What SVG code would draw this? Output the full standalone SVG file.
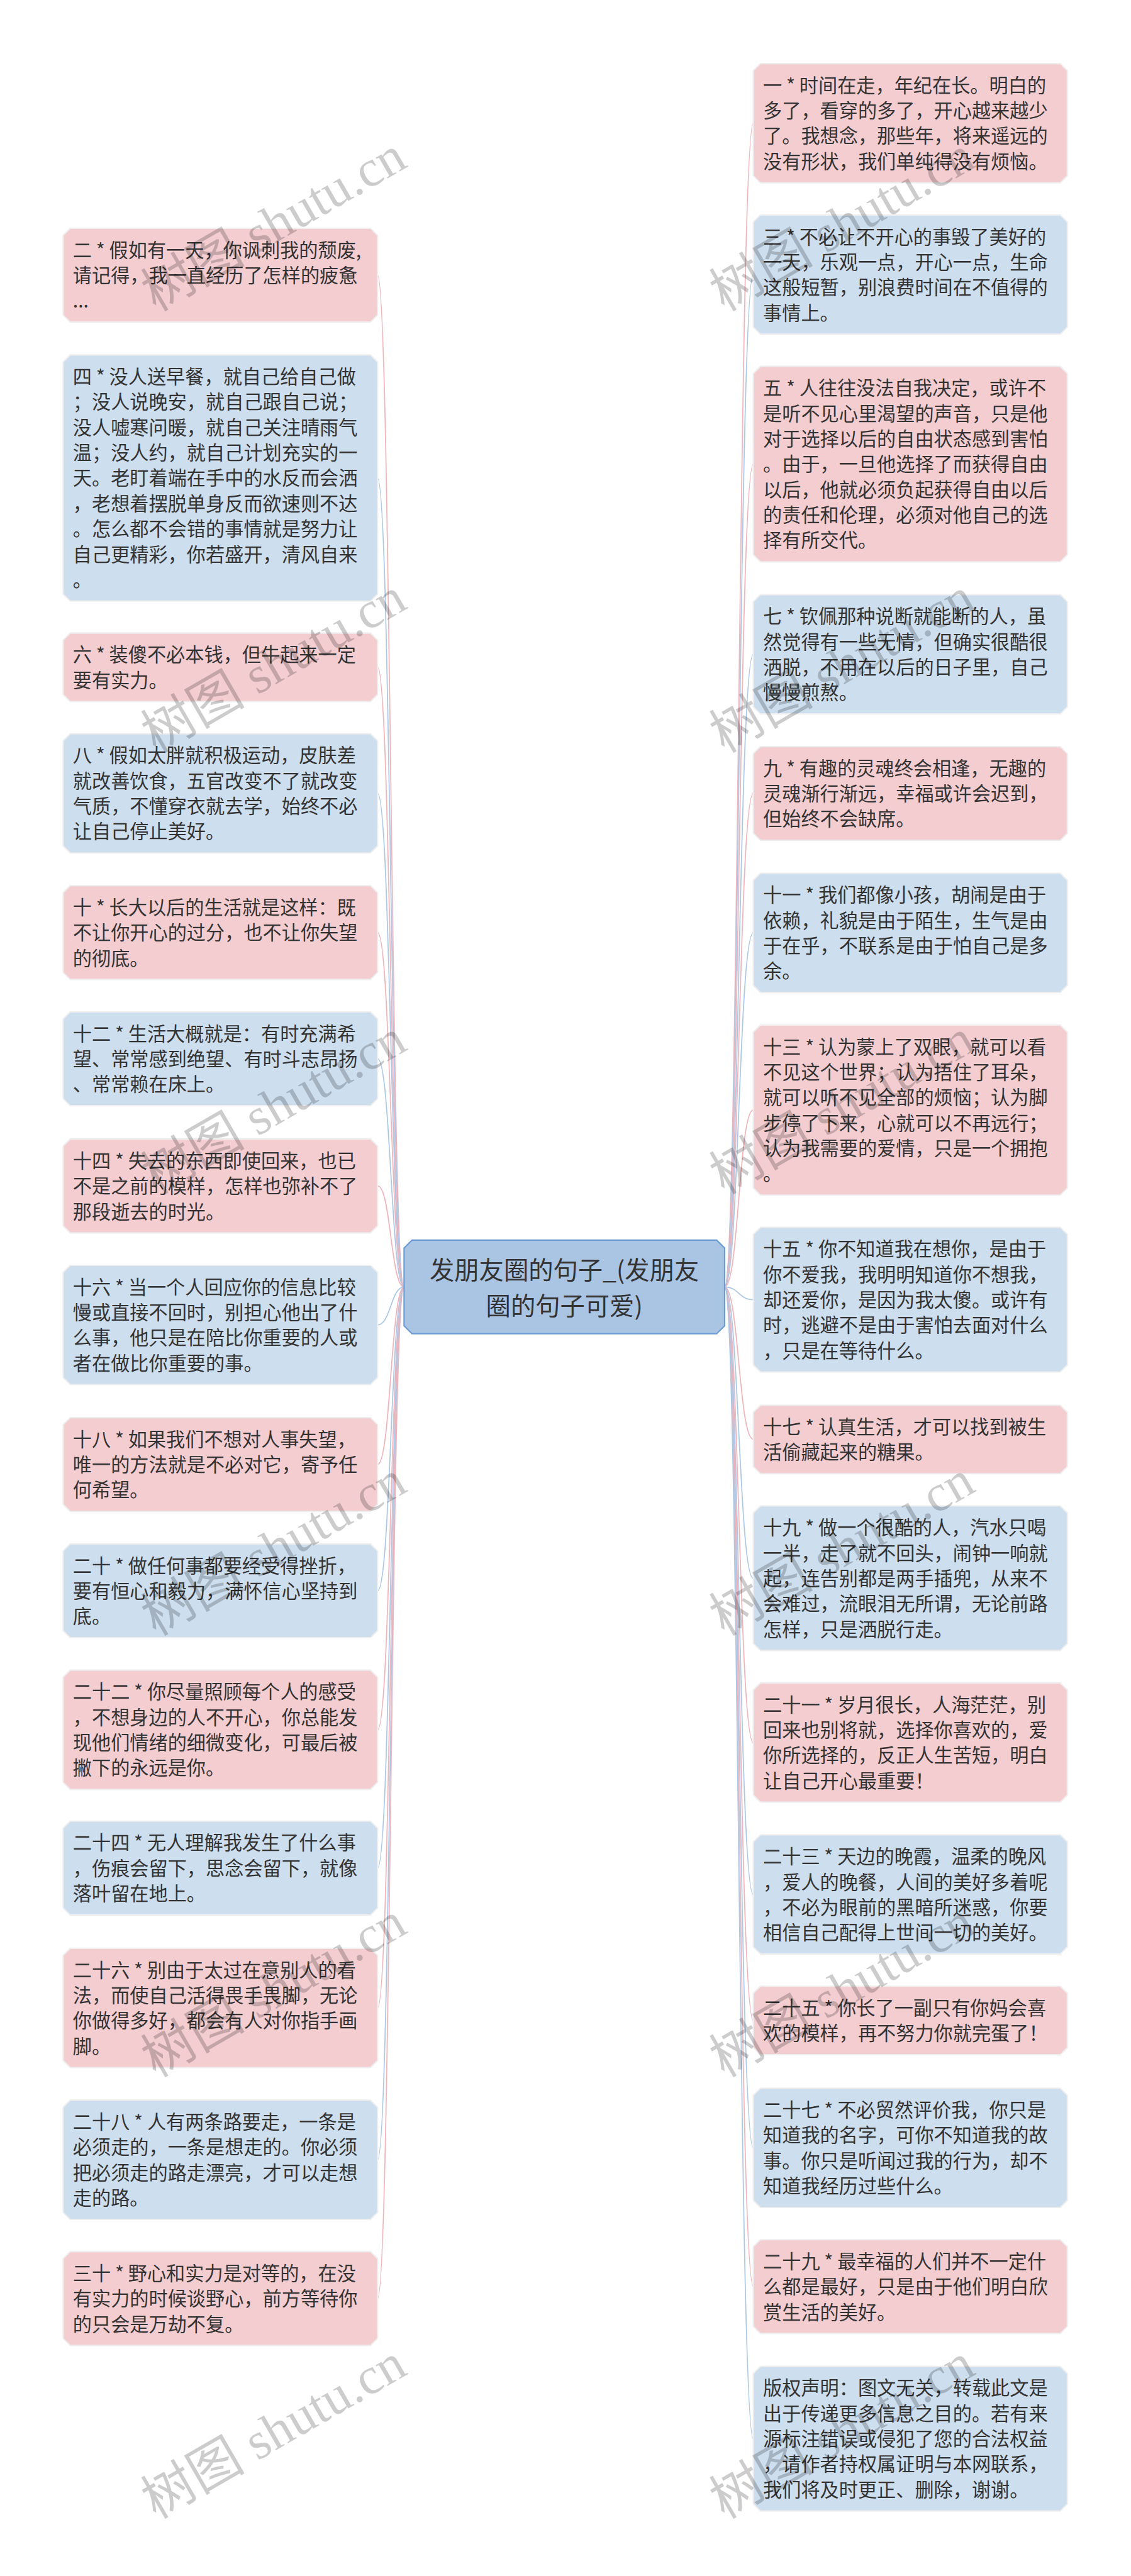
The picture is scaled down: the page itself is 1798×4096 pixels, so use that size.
<svg xmlns="http://www.w3.org/2000/svg" width="1798" height="4096" viewBox="0 0 1798 4096">
<style>
.pk path{fill:#f4cdd1;stroke:#eeeeee;stroke-width:3}
.bl path{fill:#cddeee;stroke:#eeeeee;stroke-width:3}
.t{font-family:"Noto Sans CJK SC","Noto Sans",sans-serif;font-size:43px;fill:#333333}
.c{font-family:"Noto Sans CJK SC","Noto Sans",sans-serif;font-size:56px;fill:#333333}
.lp{fill:none;stroke:#f0b4bb;stroke-width:2.5}
.lb{fill:none;stroke:#abc8e6;stroke-width:2.5}
.wm{font-family:"Liberation Serif","Noto Sans CJK SC",serif;font-size:118px;fill:#000000;fill-opacity:0.2}
</style>
<rect width="1798" height="4096" fill="#ffffff"/>
<g transform="scale(0.702)">
<g id="connectors">
<path class="lp" d="M915 2915 C885 2915 885 623 855 623"/>
<path class="lb" d="M915 2915 C885 2915 885 1083 855 1083"/>
<path class="lp" d="M915 2915 C885 2915 885 1511 855 1511"/>
<path class="lb" d="M915 2915 C885 2915 885 1797 855 1797"/>
<path class="lp" d="M915 2915 C885 2915 885 2112 855 2112"/>
<path class="lb" d="M915 2915 C885 2915 885 2398 855 2398"/>
<path class="lp" d="M915 2915 C885 2915 885 2686 855 2686"/>
<path class="lb" d="M915 2915 C885 2915 885 3001 855 3001"/>
<path class="lp" d="M915 2915 C885 2915 885 3317 855 3317"/>
<path class="lb" d="M915 2915 C885 2915 885 3603 855 3603"/>
<path class="lp" d="M915 2915 C885 2915 885 3918 855 3918"/>
<path class="lb" d="M915 2915 C885 2915 885 4231 855 4231"/>
<path class="lp" d="M915 2915 C885 2915 885 4548 855 4548"/>
<path class="lb" d="M915 2915 C885 2915 885 4892 855 4892"/>
<path class="lp" d="M915 2915 C885 2915 885 5206 855 5206"/>
<path class="lp" d="M1641 2915 C1673 2915 1673 279 1706 279"/>
<path class="lb" d="M1641 2915 C1673 2915 1673 622 1706 622"/>
<path class="lp" d="M1641 2915 C1673 2915 1673 1051 1706 1051"/>
<path class="lb" d="M1641 2915 C1673 2915 1673 1482 1706 1482"/>
<path class="lp" d="M1641 2915 C1673 2915 1673 1797 1706 1797"/>
<path class="lb" d="M1641 2915 C1673 2915 1673 2113 1706 2113"/>
<path class="lp" d="M1641 2915 C1673 2915 1673 2514 1706 2514"/>
<path class="lb" d="M1641 2915 C1673 2915 1673 2944 1706 2944"/>
<path class="lp" d="M1641 2915 C1673 2915 1673 3260 1706 3260"/>
<path class="lb" d="M1641 2915 C1673 2915 1673 3575 1706 3575"/>
<path class="lp" d="M1641 2915 C1673 2915 1673 3947 1706 3947"/>
<path class="lb" d="M1641 2915 C1673 2915 1673 4291 1706 4291"/>
<path class="lp" d="M1641 2915 C1673 2915 1673 4576 1706 4576"/>
<path class="lb" d="M1641 2915 C1673 2915 1673 4865 1706 4865"/>
<path class="lp" d="M1641 2915 C1673 2915 1673 5179 1706 5179"/>
<path class="lb" d="M1641 2915 C1673 2915 1673 5524 1706 5524"/>
</g>
<g id="center">
<path d="M933 2809 H1623 L1641 2827 V3003 L1623 3021 H933 L915 3003 V2827 Z" fill="#a9c5e3" stroke="#6b9bd2" stroke-width="3"/>
<text class="c" text-anchor="middle"><tspan x="1278" y="2897">发朋友圈的句子_(发朋友</tspan><tspan x="1278" y="2979">圈的句子可爱)</tspan></text>
</g>
<g id="n2" class="pk"><path d="M159 517 H839 L855 533 V713.5 L839 729.5 H159 L143 713.5 V533 Z"/><text class="t"><tspan x="165" y="582">二 * 假如有一天，你讽刺我的颓废,</tspan><tspan x="165" dy="57.5">请记得，我一直经历了怎样的疲惫</tspan><tspan x="165" dy="57.5">...</tspan></text></g>
<g id="n4" class="bl"><path d="M159 804 H839 L855 820 V1345.5 L839 1361.5 H159 L143 1345.5 V820 Z"/><text class="t"><tspan x="165" y="869">四 * 没人送早餐，就自己给自己做</tspan><tspan x="165" dy="57.5">；没人说晚安，就自己跟自己说；</tspan><tspan x="165" dy="57.5">没人嘘寒问暖，就自己关注晴雨气</tspan><tspan x="165" dy="57.5">温；没人约，就自己计划充实的一</tspan><tspan x="165" dy="57.5">天。老盯着端在手中的水反而会洒</tspan><tspan x="165" dy="57.5">，老想着摆脱单身反而欲速则不达</tspan><tspan x="165" dy="57.5">。怎么都不会错的事情就是努力让</tspan><tspan x="165" dy="57.5">自己更精彩，你若盛开，清风自来</tspan><tspan x="165" dy="57.5">。</tspan></text></g>
<g id="n6" class="pk"><path d="M159 1434 H839 L855 1450 V1573 L839 1589 H159 L143 1573 V1450 Z"/><text class="t"><tspan x="165" y="1499">六 * 装傻不必本钱，但牛起来一定</tspan><tspan x="165" dy="57.5">要有实力。</tspan></text></g>
<g id="n8" class="bl"><path d="M159 1662 H839 L855 1678 V1916 L839 1932 H159 L143 1916 V1678 Z"/><text class="t"><tspan x="165" y="1727">八 * 假如太胖就积极运动，皮肤差</tspan><tspan x="165" dy="57.5">就改善饮食，五官改变不了就改变</tspan><tspan x="165" dy="57.5">气质，不懂穿衣就去学，始终不必</tspan><tspan x="165" dy="57.5">让自己停止美好。</tspan></text></g>
<g id="n10" class="pk"><path d="M159 2006 H839 L855 2022 V2202.5 L839 2218.5 H159 L143 2202.5 V2022 Z"/><text class="t"><tspan x="165" y="2071">十 * 长大以后的生活就是这样：既</tspan><tspan x="165" dy="57.5">不让你开心的过分，也不让你失望</tspan><tspan x="165" dy="57.5">的彻底。</tspan></text></g>
<g id="n12" class="bl"><path d="M159 2292 H839 L855 2308 V2488.5 L839 2504.5 H159 L143 2488.5 V2308 Z"/><text class="t"><tspan x="165" y="2357">十二 * 生活大概就是：有时充满希</tspan><tspan x="165" dy="57.5">望、常常感到绝望、有时斗志昂扬</tspan><tspan x="165" dy="57.5">、常常赖在床上。</tspan></text></g>
<g id="n14" class="pk"><path d="M159 2580 H839 L855 2596 V2776.5 L839 2792.5 H159 L143 2776.5 V2596 Z"/><text class="t"><tspan x="165" y="2645">十四 * 失去的东西即使回来，也已</tspan><tspan x="165" dy="57.5">不是之前的模样，怎样也弥补不了</tspan><tspan x="165" dy="57.5">那段逝去的时光。</tspan></text></g>
<g id="n16" class="bl"><path d="M159 2866 H839 L855 2882 V3120 L839 3136 H159 L143 3120 V2882 Z"/><text class="t"><tspan x="165" y="2931">十六 * 当一个人回应你的信息比较</tspan><tspan x="165" dy="57.5">慢或直接不回时，别担心他出了什</tspan><tspan x="165" dy="57.5">么事，他只是在陪比你重要的人或</tspan><tspan x="165" dy="57.5">者在做比你重要的事。</tspan></text></g>
<g id="n18" class="pk"><path d="M159 3211 H839 L855 3227 V3407.5 L839 3423.5 H159 L143 3407.5 V3227 Z"/><text class="t"><tspan x="165" y="3276">十八 * 如果我们不想对人事失望，</tspan><tspan x="165" dy="57.5">唯一的方法就是不必对它，寄予任</tspan><tspan x="165" dy="57.5">何希望。</tspan></text></g>
<g id="n20" class="bl"><path d="M159 3497 H839 L855 3513 V3693.5 L839 3709.5 H159 L143 3693.5 V3513 Z"/><text class="t"><tspan x="165" y="3562">二十 * 做任何事都要经受得挫折，</tspan><tspan x="165" dy="57.5">要有恒心和毅力，满怀信心坚持到</tspan><tspan x="165" dy="57.5">底。</tspan></text></g>
<g id="n22" class="pk"><path d="M159 3783 H839 L855 3799 V4037 L839 4053 H159 L143 4037 V3799 Z"/><text class="t"><tspan x="165" y="3848">二十二 * 你尽量照顾每个人的感受</tspan><tspan x="165" dy="57.5">，不想身边的人不开心，你总能发</tspan><tspan x="165" dy="57.5">现他们情绪的细微变化，可最后被</tspan><tspan x="165" dy="57.5">撇下的永远是你。</tspan></text></g>
<g id="n24" class="bl"><path d="M159 4125 H839 L855 4141 V4321.5 L839 4337.5 H159 L143 4321.5 V4141 Z"/><text class="t"><tspan x="165" y="4190">二十四 * 无人理解我发生了什么事</tspan><tspan x="165" dy="57.5">，伤痕会留下，思念会留下，就像</tspan><tspan x="165" dy="57.5">落叶留在地上。</tspan></text></g>
<g id="n26" class="pk"><path d="M159 4413 H839 L855 4429 V4667 L839 4683 H159 L143 4667 V4429 Z"/><text class="t"><tspan x="165" y="4478">二十六 * 别由于太过在意别人的看</tspan><tspan x="165" dy="57.5">法，而使自己活得畏手畏脚，无论</tspan><tspan x="165" dy="57.5">你做得多好，都会有人对你指手画</tspan><tspan x="165" dy="57.5">脚。</tspan></text></g>
<g id="n28" class="bl"><path d="M159 4757 H839 L855 4773 V5011 L839 5027 H159 L143 5011 V4773 Z"/><text class="t"><tspan x="165" y="4822">二十八 * 人有两条路要走，一条是</tspan><tspan x="165" dy="57.5">必须走的，一条是想走的。你必须</tspan><tspan x="165" dy="57.5">把必须走的路走漂亮，才可以走想</tspan><tspan x="165" dy="57.5">走的路。</tspan></text></g>
<g id="n30" class="pk"><path d="M159 5100 H839 L855 5116 V5296.5 L839 5312.5 H159 L143 5296.5 V5116 Z"/><text class="t"><tspan x="165" y="5165">三十 * 野心和实力是对等的，在没</tspan><tspan x="165" dy="57.5">有实力的时候谈野心，前方等待你</tspan><tspan x="165" dy="57.5">的只会是万劫不复。</tspan></text></g>
<g id="n1" class="pk"><path d="M1722 144 H2401 L2417 160 V398 L2401 414 H1722 L1706 398 V160 Z"/><text class="t"><tspan x="1728" y="209">一 * 时间在走，年纪在长。明白的</tspan><tspan x="1728" dy="57.5">多了，看穿的多了，开心越来越少</tspan><tspan x="1728" dy="57.5">了。我想念，那些年，将来遥远的</tspan><tspan x="1728" dy="57.5">没有形状，我们单纯得没有烦恼。</tspan></text></g>
<g id="n3" class="bl"><path d="M1722 487 H2401 L2417 503 V741 L2401 757 H1722 L1706 741 V503 Z"/><text class="t"><tspan x="1728" y="552">三 * 不必让不开心的事毁了美好的</tspan><tspan x="1728" dy="57.5">一天，乐观一点，开心一点，生命</tspan><tspan x="1728" dy="57.5">这般短暂，别浪费时间在不值得的</tspan><tspan x="1728" dy="57.5">事情上。</tspan></text></g>
<g id="n5" class="pk"><path d="M1722 830 H2401 L2417 846 V1256.5 L2401 1272.5 H1722 L1706 1256.5 V846 Z"/><text class="t"><tspan x="1728" y="895">五 * 人往往没法自我决定，或许不</tspan><tspan x="1728" dy="57.5">是听不见心里渴望的声音，只是他</tspan><tspan x="1728" dy="57.5">对于选择以后的自由状态感到害怕</tspan><tspan x="1728" dy="57.5">。由于，一旦他选择了而获得自由</tspan><tspan x="1728" dy="57.5">以后，他就必须负起获得自由以后</tspan><tspan x="1728" dy="57.5">的责任和伦理，必须对他自己的选</tspan><tspan x="1728" dy="57.5">择有所交代。</tspan></text></g>
<g id="n7" class="bl"><path d="M1722 1347 H2401 L2417 1363 V1601 L2401 1617 H1722 L1706 1601 V1363 Z"/><text class="t"><tspan x="1728" y="1412">七 * 钦佩那种说断就能断的人，虽</tspan><tspan x="1728" dy="57.5">然觉得有一些无情，但确实很酷很</tspan><tspan x="1728" dy="57.5">洒脱，不用在以后的日子里，自己</tspan><tspan x="1728" dy="57.5">慢慢煎熬。</tspan></text></g>
<g id="n9" class="pk"><path d="M1722 1691 H2401 L2417 1707 V1887.5 L2401 1903.5 H1722 L1706 1887.5 V1707 Z"/><text class="t"><tspan x="1728" y="1756">九 * 有趣的灵魂终会相逢，无趣的</tspan><tspan x="1728" dy="57.5">灵魂渐行渐远，幸福或许会迟到，</tspan><tspan x="1728" dy="57.5">但始终不会缺席。</tspan></text></g>
<g id="n11" class="bl"><path d="M1722 1978 H2401 L2417 1994 V2232 L2401 2248 H1722 L1706 2232 V1994 Z"/><text class="t"><tspan x="1728" y="2043">十一 * 我们都像小孩，胡闹是由于</tspan><tspan x="1728" dy="57.5">依赖，礼貌是由于陌生，生气是由</tspan><tspan x="1728" dy="57.5">于在乎，不联系是由于怕自己是多</tspan><tspan x="1728" dy="57.5">余。</tspan></text></g>
<g id="n13" class="pk"><path d="M1722 2322 H2401 L2417 2338 V2691 L2401 2707 H1722 L1706 2691 V2338 Z"/><text class="t"><tspan x="1728" y="2387">十三 * 认为蒙上了双眼，就可以看</tspan><tspan x="1728" dy="57.5">不见这个世界；认为捂住了耳朵，</tspan><tspan x="1728" dy="57.5">就可以听不见全部的烦恼；认为脚</tspan><tspan x="1728" dy="57.5">步停了下来，心就可以不再远行；</tspan><tspan x="1728" dy="57.5">认为我需要的爱情，只是一个拥抱</tspan><tspan x="1728" dy="57.5">。</tspan></text></g>
<g id="n15" class="bl"><path d="M1722 2780 H2401 L2417 2796 V3091.5 L2401 3107.5 H1722 L1706 3091.5 V2796 Z"/><text class="t"><tspan x="1728" y="2845">十五 * 你不知道我在想你，是由于</tspan><tspan x="1728" dy="57.5">你不爱我，我明明知道你不想我，</tspan><tspan x="1728" dy="57.5">却还爱你，是因为我太傻。或许有</tspan><tspan x="1728" dy="57.5">时，逃避不是由于害怕去面对什么</tspan><tspan x="1728" dy="57.5">，只是在等待什么。</tspan></text></g>
<g id="n17" class="pk"><path d="M1722 3183 H2401 L2417 3199 V3322 L2401 3338 H1722 L1706 3322 V3199 Z"/><text class="t"><tspan x="1728" y="3248">十七 * 认真生活，才可以找到被生</tspan><tspan x="1728" dy="57.5">活偷藏起来的糖果。</tspan></text></g>
<g id="n19" class="bl"><path d="M1722 3411 H2401 L2417 3427 V3722.5 L2401 3738.5 H1722 L1706 3722.5 V3427 Z"/><text class="t"><tspan x="1728" y="3476">十九 * 做一个很酷的人，汽水只喝</tspan><tspan x="1728" dy="57.5">一半，走了就不回头，闹钟一响就</tspan><tspan x="1728" dy="57.5">起，连告别都是两手插兜，从来不</tspan><tspan x="1728" dy="57.5">会难过，流眼泪无所谓，无论前路</tspan><tspan x="1728" dy="57.5">怎样，只是洒脱行走。</tspan></text></g>
<g id="n21" class="pk"><path d="M1722 3812 H2401 L2417 3828 V4066 L2401 4082 H1722 L1706 4066 V3828 Z"/><text class="t"><tspan x="1728" y="3877">二十一 * 岁月很长，人海茫茫，别</tspan><tspan x="1728" dy="57.5">回来也别将就，选择你喜欢的，爱</tspan><tspan x="1728" dy="57.5">你所选择的，反正人生苦短，明白</tspan><tspan x="1728" dy="57.5">让自己开心最重要！</tspan></text></g>
<g id="n23" class="bl"><path d="M1722 4156 H2401 L2417 4172 V4410 L2401 4426 H1722 L1706 4410 V4172 Z"/><text class="t"><tspan x="1728" y="4221">二十三 * 天边的晚霞，温柔的晚风</tspan><tspan x="1728" dy="57.5">，爱人的晚餐，人间的美好多着呢</tspan><tspan x="1728" dy="57.5">，不必为眼前的黑暗所迷惑，你要</tspan><tspan x="1728" dy="57.5">相信自己配得上世间一切的美好。</tspan></text></g>
<g id="n25" class="pk"><path d="M1722 4499 H2401 L2417 4515 V4638 L2401 4654 H1722 L1706 4638 V4515 Z"/><text class="t"><tspan x="1728" y="4564">二十五 * 你长了一副只有你妈会喜</tspan><tspan x="1728" dy="57.5">欢的模样，再不努力你就完蛋了！</tspan></text></g>
<g id="n27" class="bl"><path d="M1722 4730 H2401 L2417 4746 V4984 L2401 5000 H1722 L1706 4984 V4746 Z"/><text class="t"><tspan x="1728" y="4795">二十七 * 不必贸然评价我，你只是</tspan><tspan x="1728" dy="57.5">知道我的名字，可你不知道我的故</tspan><tspan x="1728" dy="57.5">事。你只是听闻过我的行为，却不</tspan><tspan x="1728" dy="57.5">知道我经历过些什么。</tspan></text></g>
<g id="n29" class="pk"><path d="M1722 5073 H2401 L2417 5089 V5269.5 L2401 5285.5 H1722 L1706 5269.5 V5089 Z"/><text class="t"><tspan x="1728" y="5138">二十九 * 最幸福的人们并不一定什</tspan><tspan x="1728" dy="57.5">么都是最好，只是由于他们明白欣</tspan><tspan x="1728" dy="57.5">赏生活的美好。</tspan></text></g>
<g id="ncopy" class="bl"><path d="M1722 5360 H2401 L2417 5376 V5671.5 L2401 5687.5 H1722 L1706 5671.5 V5376 Z"/><text class="t"><tspan x="1728" y="5425">版权声明：图文无关，转载此文是</tspan><tspan x="1728" dy="57.5">出于传递更多信息之目的。若有来</tspan><tspan x="1728" dy="57.5">源标注错误或侵犯了您的合法权益</tspan><tspan x="1728" dy="57.5">，请作者持权属证明与本网联系，</tspan><tspan x="1728" dy="57.5">我们将及时更正、删除，谢谢。</tspan></text></g>
<g id="watermarks">
<text class="wm" transform="translate(353 707) rotate(-30)">树图 shutu.cn</text>
<text class="wm" transform="translate(353 1707) rotate(-30)">树图 shutu.cn</text>
<text class="wm" transform="translate(353 2707) rotate(-30)">树图 shutu.cn</text>
<text class="wm" transform="translate(353 3707) rotate(-30)">树图 shutu.cn</text>
<text class="wm" transform="translate(353 4707) rotate(-30)">树图 shutu.cn</text>
<text class="wm" transform="translate(353 5707) rotate(-30)">树图 shutu.cn</text>
<text class="wm" transform="translate(1640 707) rotate(-30)">树图 shutu.cn</text>
<text class="wm" transform="translate(1640 1707) rotate(-30)">树图 shutu.cn</text>
<text class="wm" transform="translate(1640 2707) rotate(-30)">树图 shutu.cn</text>
<text class="wm" transform="translate(1640 3707) rotate(-30)">树图 shutu.cn</text>
<text class="wm" transform="translate(1640 4707) rotate(-30)">树图 shutu.cn</text>
<text class="wm" transform="translate(1640 5707) rotate(-30)">树图 shutu.cn</text>
</g>
</g>
</svg>
